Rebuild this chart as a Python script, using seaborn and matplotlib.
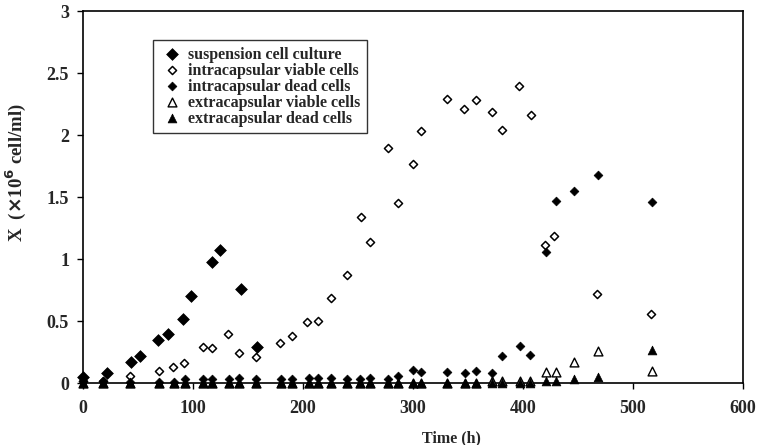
import pandas as pd
import seaborn as sns
import matplotlib.pyplot as plt

# suspension culture
t_susp = [0, 22, 44, 52, 68, 77, 91, 98, 117, 125, 144, 158]
x_susp = [0.05, 0.08, 0.17, 0.22, 0.35, 0.40, 0.52, 0.70, 0.98, 1.07, 0.76, 0.29]

# intracapsular viable
t_iv = [0, 18, 43, 69, 82, 92, 109, 117, 132, 142, 157, 179, 190, 204, 214, 225,
        240, 253, 261, 277, 286, 300, 307, 331, 346, 357, 372, 381, 396, 407,
        420, 428, 467, 516]
x_iv = [0.02, 0.02, 0.06, 0.10, 0.13, 0.16, 0.29, 0.28, 0.40, 0.24, 0.21, 0.32,
        0.38, 0.49, 0.50, 0.69, 0.87, 1.34, 1.14, 1.90, 1.45, 1.77, 2.03, 2.29,
        2.21, 2.28, 2.19, 2.04, 2.40, 2.16, 1.11, 1.19, 0.72, 0.56]

# intracapsular dead + extracapsular (same sampling times)
t_cap = [0, 18, 43, 69, 83, 93, 109, 117, 133, 142, 157, 180, 190, 205, 214, 225,
         240, 252, 261, 277, 286, 300, 307, 331, 347, 357, 372, 381, 397, 406,
         421, 430, 446, 468, 517]
x_id = [0.02, 0.02, 0.01, 0.01, 0.01, 0.03, 0.03, 0.03, 0.03, 0.04, 0.03, 0.03,
        0.03, 0.04, 0.04, 0.04, 0.03, 0.03, 0.04, 0.03, 0.06, 0.11, 0.09, 0.09,
        0.08, 0.10, 0.08, 0.22, 0.30, 0.23, 1.06, 1.47, 1.55, 1.68, 1.46]
x_ev = [0.0, 0.0, 0.0, 0.0, 0.0, 0.0, 0.0, 0.0, 0.0, 0.0, 0.0, 0.0,
        0.0, 0.0, 0.0, 0.0, 0.0, 0.0, 0.0, 0.0, 0.0, 0.0, 0.0, 0.0,
        0.0, 0.0, 0.02, 0.02, 0.02, 0.02, 0.09, 0.09, 0.17, 0.26, 0.10]
x_ed = [0.005, 0.005, 0.005, 0.005, 0.005, 0.005, 0.005, 0.005, 0.005, 0.005,
        0.005, 0.005, 0.005, 0.005, 0.005, 0.005, 0.005, 0.005, 0.005, 0.005,
        0.005, 0.005, 0.005, 0.005, 0.005, 0.005, 0.005, 0.005, 0.005, 0.005,
        0.02, 0.02, 0.03, 0.05, 0.27]

sns.set_style("ticks")
plt.rcParams['font.family'] = ['Liberation Serif', 'DejaVu Serif']
plt.rcParams['font.weight'] = 'bold'

fig = plt.figure(figsize=(7.57, 4.45), dpi=100)
ax = fig.add_axes([0.1096, 0.139, 0.872, 0.836])

sns.scatterplot(x=t_susp, y=x_susp, marker="D", s=36, color="black",
                edgecolor="black", linewidth=0.5, label="suspension cell culture", ax=ax, zorder=3)
sns.scatterplot(x=t_iv, y=x_iv, marker="D", s=17, facecolor="white",
                edgecolor="black", linewidth=1.1, label="intracapsular viable cells", ax=ax, zorder=3)
sns.scatterplot(x=t_cap, y=x_id, marker="D", s=20, color="black",
                edgecolor="black", linewidth=0.5, label="intracapsular dead cells", ax=ax, zorder=3)
sns.scatterplot(x=t_cap, y=x_ev, marker="^", s=40, facecolor="white",
                edgecolor="black", linewidth=1.0, label="extracapsular viable cells", ax=ax, zorder=3)
sns.scatterplot(x=t_cap, y=x_ed, marker="^", s=40, color="black",
                edgecolor="black", linewidth=0.5, label="extracapsular dead cells", ax=ax, zorder=3)
for coll in ax.collections:
    coll.set_clip_on(False)

ax.set_xlim(0, 600)
ax.set_ylim(0, 3)
ax.set_xticks([0, 100, 200, 300, 400, 500, 600])
ax.set_yticks([0, 0.5, 1, 1.5, 2, 2.5, 3])
ax.set_yticklabels(["0", "0.5", "1", "1.5", "2", "2.5", "3"])
ax.tick_params(direction="out", length=4, width=1, labelsize=13, color="black")
for lab in ax.get_xticklabels() + ax.get_yticklabels():
    lab.set_fontweight("bold")
ax.tick_params(axis="x", pad=8)
ax.tick_params(axis="y", pad=6)
for sp in ax.spines.values():
    sp.set_visible(True)
    sp.set_linewidth(1.2)
    sp.set_color("black")

ax.set_xlabel("Time (h)", fontsize=11.5, fontweight="bold")
ax.xaxis.set_label_coords(0.558, -0.127)
ax.set_ylabel(r"X  ($\times$10$^{6}$ cell/ml)", fontsize=13.5, fontweight="bold")
ax.yaxis.set_label_coords(-0.084, 0.567)

leg = ax.legend(loc="upper left", bbox_to_anchor=(0.106, 0.922), frameon=True,
                fancybox=False, edgecolor="black", fontsize=11.5, handletextpad=0.2,
                borderpad=0.4, labelspacing=0.0, handlelength=1.6, borderaxespad=0)
leg.get_frame().set_linewidth(1.0)
for txt in leg.get_texts():
    txt.set_fontweight("bold")

plt.savefig("out.png", dpi=100)
